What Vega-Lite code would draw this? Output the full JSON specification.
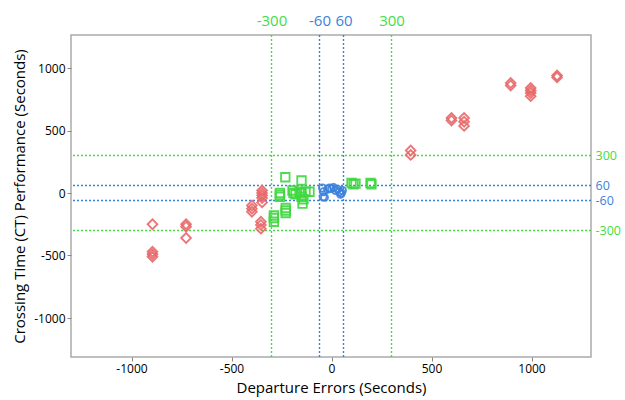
{
  "$schema": "https://vega.github.io/schema/vega-lite/v6.json",
  "width": 520,
  "height": 322,
  "autosize": "none",
  "padding": {"left": 71, "top": 35, "right": 34, "bottom": 43},
  "background": "white",
  "config": {
    "font": "Open Sans",
    "view": {"stroke": "#AAAAAA", "strokeWidth": 1.5},
    "axis": {"labelFont": "Open Sans", "titleFont": "Open Sans"}
  },
  "datasets": {
    "points": [
      {"group": "Outside", "dep": -895, "ct": -250},
      {"group": "Outside", "dep": -895, "ct": -470},
      {"group": "Outside", "dep": -895, "ct": -490},
      {"group": "Outside", "dep": -895, "ct": -510},
      {"group": "Outside", "dep": -727, "ct": -250},
      {"group": "Outside", "dep": -727, "ct": -270},
      {"group": "Outside", "dep": -727, "ct": -360},
      {"group": "Outside", "dep": -398, "ct": -100},
      {"group": "Outside", "dep": -398, "ct": -125},
      {"group": "Outside", "dep": -398, "ct": -150},
      {"group": "Outside", "dep": -347, "ct": 20},
      {"group": "Outside", "dep": -347, "ct": 0},
      {"group": "Outside", "dep": -347, "ct": -20},
      {"group": "Outside", "dep": -347, "ct": -40},
      {"group": "Outside", "dep": -347, "ct": -75},
      {"group": "Outside", "dep": -353, "ct": -230},
      {"group": "Outside", "dep": -353, "ct": -255},
      {"group": "Outside", "dep": -353, "ct": -285},
      {"group": "Outside", "dep": 396, "ct": 340},
      {"group": "Outside", "dep": 396, "ct": 305},
      {"group": "Outside", "dep": 600, "ct": 600},
      {"group": "Outside", "dep": 600, "ct": 580},
      {"group": "Outside", "dep": 663, "ct": 600},
      {"group": "Outside", "dep": 663, "ct": 570},
      {"group": "Outside", "dep": 663, "ct": 537},
      {"group": "Outside", "dep": 896, "ct": 880},
      {"group": "Outside", "dep": 896, "ct": 860},
      {"group": "Outside", "dep": 996, "ct": 840},
      {"group": "Outside", "dep": 996, "ct": 820},
      {"group": "Outside", "dep": 996, "ct": 800},
      {"group": "Outside", "dep": 996, "ct": 775},
      {"group": "Outside", "dep": 1128, "ct": 940},
      {"group": "Outside", "dep": 1128, "ct": 925},
      {"group": "Within 300", "dep": -231, "ct": 126},
      {"group": "Within 300", "dep": -150, "ct": 100},
      {"group": "Within 300", "dep": -258, "ct": 0},
      {"group": "Within 300", "dep": -258, "ct": -15},
      {"group": "Within 300", "dep": -258, "ct": -30},
      {"group": "Within 300", "dep": -195, "ct": 20},
      {"group": "Within 300", "dep": -190, "ct": 0},
      {"group": "Within 300", "dep": -180, "ct": -10},
      {"group": "Within 300", "dep": -160, "ct": 10},
      {"group": "Within 300", "dep": -150, "ct": 0},
      {"group": "Within 300", "dep": -150, "ct": -30},
      {"group": "Within 300", "dep": -140, "ct": -50},
      {"group": "Within 300", "dep": -130, "ct": 10},
      {"group": "Within 300", "dep": -110, "ct": 10},
      {"group": "Within 300", "dep": -145, "ct": -85},
      {"group": "Within 300", "dep": -229, "ct": -120},
      {"group": "Within 300", "dep": -229, "ct": -140},
      {"group": "Within 300", "dep": -229, "ct": -160},
      {"group": "Within 300", "dep": -288, "ct": -180},
      {"group": "Within 300", "dep": -288, "ct": -200},
      {"group": "Within 300", "dep": -288, "ct": -230},
      {"group": "Within 300", "dep": 100, "ct": 80},
      {"group": "Within 300", "dep": 110, "ct": 70},
      {"group": "Within 300", "dep": 120, "ct": 75},
      {"group": "Within 300", "dep": 195, "ct": 80},
      {"group": "Within 300", "dep": 200, "ct": 70},
      {"group": "Within 60", "dep": -45, "ct": 40},
      {"group": "Within 60", "dep": -40, "ct": 10},
      {"group": "Within 60", "dep": -42, "ct": -30},
      {"group": "Within 60", "dep": -35, "ct": -35},
      {"group": "Within 60", "dep": -20, "ct": 30},
      {"group": "Within 60", "dep": -10, "ct": 40},
      {"group": "Within 60", "dep": 0, "ct": 35},
      {"group": "Within 60", "dep": 10, "ct": 45},
      {"group": "Within 60", "dep": 20, "ct": 20},
      {"group": "Within 60", "dep": 30, "ct": 30},
      {"group": "Within 60", "dep": 40, "ct": 10},
      {"group": "Within 60", "dep": 45, "ct": -10},
      {"group": "Within 60", "dep": 55, "ct": 20},
      {"group": "Within 60", "dep": 50, "ct": 0}
    ],
    "limits": [
      {"v": -300, "band": "300"},
      {"v": -60, "band": "60"},
      {"v": 60, "band": "60"},
      {"v": 300, "band": "300"}
    ]
  },
  "layer": [
    {
      "data": {"name": "limits"},
      "transform": [{"filter": "datum.band == '300'"}],
      "mark": {"type": "rule", "strokeDash": [2, 2], "strokeWidth": 1.4, "color": "#44DD44"},
      "encoding": {
        "x": {
          "field": "v", "type": "quantitative",
          "scale": {"domain": [-1302.5, 1297.5], "nice": false, "zero": false},
          "axis": {
            "orient": "top", "values": [-300, -60, 60, 300], "title": null,
            "labelExpr": "'' + datum.value",
            "ticks": false, "domain": false, "grid": false, "labelFontSize": 15,
            "labelPadding": 7, "labelOverlap": false, "labelFlush": false,
            "labelColor": {"condition": {"test": "abs(datum.value) == 300", "value": "#44DD44"}, "value": "#3C82DC"}
          }
        }
      }
    },
    {
      "data": {"name": "limits"},
      "transform": [{"filter": "datum.band == '60'"}],
      "mark": {"type": "rule", "strokeDash": [2, 2], "strokeWidth": 1.4, "color": "#3C82DC"},
      "encoding": {
        "x": {"field": "v", "type": "quantitative", "axis": null}
      }
    },
    {
      "data": {"name": "limits"},
      "transform": [{"filter": "datum.band == '300'"}],
      "mark": {"type": "rule", "strokeDash": [2, 2], "strokeWidth": 1.4, "color": "#44DD44"},
      "encoding": {
        "y": {
          "field": "v", "type": "quantitative",
          "scale": {"domain": [-1312, 1264], "nice": false, "zero": false},
          "axis": {
            "orient": "right", "values": [-300, -60, 60, 300], "title": null,
            "labelExpr": "'' + datum.value",
            "ticks": false, "domain": false, "grid": false, "labelFontSize": 12.5,
            "labelPadding": 4, "labelOverlap": false, "labelFlush": false,
            "labelColor": {"condition": {"test": "abs(datum.value) == 300", "value": "#44DD44"}, "value": "#3C82DC"}
          }
        }
      }
    },
    {
      "data": {"name": "limits"},
      "transform": [{"filter": "datum.band == '60'"}],
      "mark": {"type": "rule", "strokeDash": [2, 2], "strokeWidth": 1.4, "color": "#3C82DC"},
      "encoding": {
        "y": {"field": "v", "type": "quantitative", "axis": null}
      }
    },
    {
      "data": {"name": "points"},
      "mark": {"type": "point", "filled": false, "strokeWidth": 1.8, "opacity": 0.9},
      "encoding": {
        "x": {
          "field": "dep", "type": "quantitative",
          "scale": {"domain": [-1302.5, 1297.5], "nice": false, "zero": false},
          "axis": {
            "orient": "bottom", "values": [-1000, -500, 0, 500, 1000],
            "labelExpr": "'' + datum.value",
            "title": "Departure Errors (Seconds)", "titleFontSize": 15, "titleFontWeight": "normal", "titleColor": "#000",
            "labelFontSize": 12, "labelColor": "#000", "grid": false, "domain": false,
            "tickColor": "#888", "tickSize": 4, "titlePadding": 6
          }
        },
        "y": {
          "field": "ct", "type": "quantitative",
          "scale": {"domain": [-1312, 1264], "nice": false, "zero": false},
          "axis": {
            "orient": "left", "values": [-1000, -500, 0, 500, 1000],
            "labelExpr": "'' + datum.value",
            "title": "Crossing Time (CT) Performance (Seconds)", "titleFontSize": 15, "titleFontWeight": "normal", "titleColor": "#000",
            "labelFontSize": 12, "labelColor": "#000", "grid": false, "domain": false,
            "tickColor": "#888", "tickSize": 4, "titlePadding": 6
          }
        },
        "color": {"field": "group", "type": "nominal", "scale": {"domain": ["Outside", "Within 300", "Within 60"], "range": ["#E8686A", "#3FD83F", "#3C82DC"]}, "legend": null},
        "shape": {"field": "group", "type": "nominal", "scale": {"domain": ["Outside", "Within 300", "Within 60"], "range": ["diamond", "square", "circle"]}, "legend": null},
        "size": {"field": "group", "type": "nominal", "scale": {"domain": ["Outside", "Within 300", "Within 60"], "range": [95, 50, 65]}, "legend": null}
      }
    }
  ],
  "resolve": {"axis": {"x": "independent", "y": "independent"}}
}
